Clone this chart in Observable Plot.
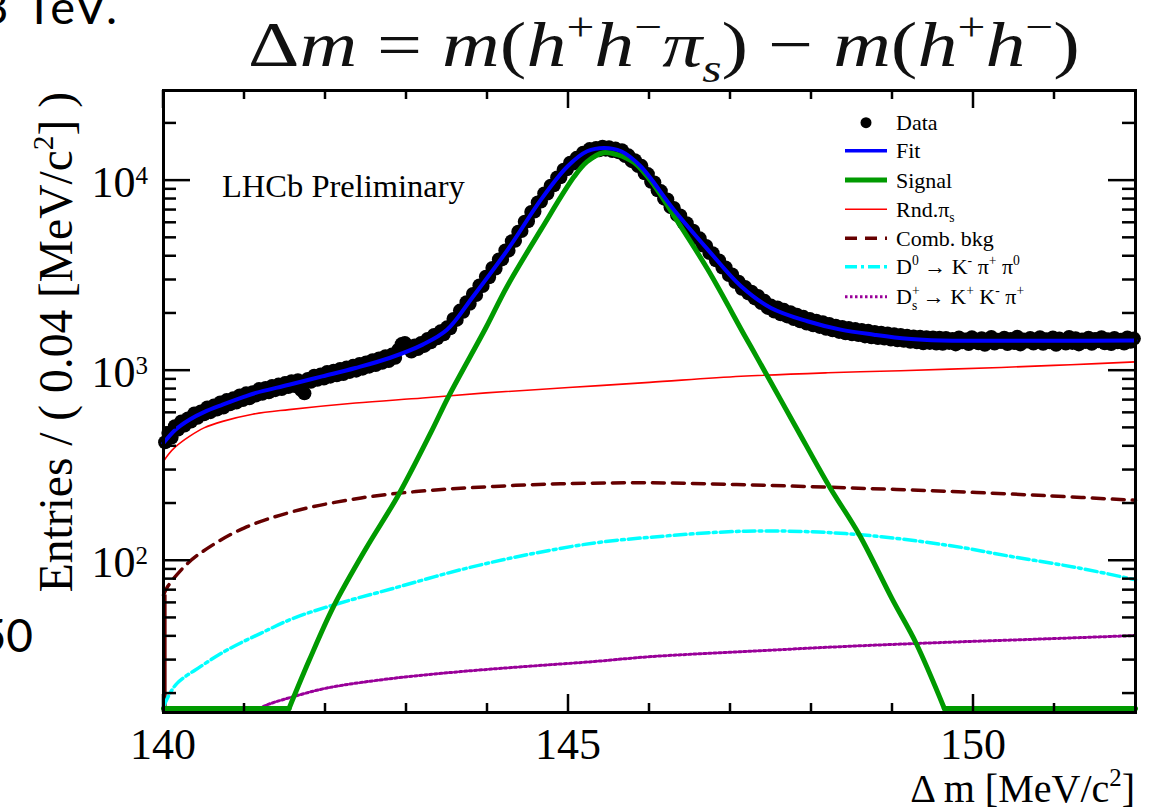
<!DOCTYPE html>
<html><head><meta charset="utf-8">
<script src="https://cdn.jsdelivr.net/npm/d3@7"></script>
<script src="https://cdn.jsdelivr.net/npm/@observablehq/plot@0.6"></script>
<style>html,body{margin:0;padding:0;background:#fff;overflow:hidden} svg{display:block}</style>
</head><body><div id="chart"></div>
<script>
// ---------- data (entries per 0.04 MeV/c^2 bin) ----------
const binStart = 140.02, binWidth = 0.04;
const dataCounts = [
 420, 470, 445, 510, 490, 540, 515, 560, 540, 595,
 565, 610, 590, 640, 605, 655, 625, 680, 640, 700,
 665, 715, 680, 740, 700, 760, 715, 770, 740, 800,
 755, 810, 770, 830, 790, 845, 800, 860, 820, 880,
 830, 890, 790, 760, 905, 875, 940, 895, 955, 910,
 985, 930, 1000, 945, 1020, 960, 1040, 985, 1060, 1000,
 1085, 1025, 1105, 1050, 1135, 1070, 1160, 1100, 1190, 1125,
 1215, 1170, 1290, 1380, 1400, 1350, 1260, 1355, 1300, 1400,
 1350, 1470, 1410, 1540, 1480, 1610, 1555, 1690, 1670, 1870,
 1850, 2070, 2040, 2290, 2250, 2530, 2500, 2810, 2790, 3120,
 3100, 3470, 3450, 3850, 3850, 4290, 4280, 4800, 4830, 5390,
 5430, 6080, 6110, 6840, 6880, 7680, 7760, 8550, 8560, 9400,
 9450, 10380, 10420, 11420, 11480, 12420, 12300, 13180, 13060, 14010,
 13900, 14650, 14200, 14850, 14450, 15080, 14550, 14980, 14300, 14740,
 14100, 14440, 13480, 13580, 12660, 12790, 11930, 11960, 10920, 10820,
 9870, 9770, 8900, 8810, 8040, 7960, 7250, 7180, 6580, 6550,
 6000, 5970, 5470, 5450, 4990, 4970, 4550, 4530, 4160, 4150,
 3810, 3800, 3490, 3490, 3190, 3210, 2930, 2940, 2700, 2760,
 2550, 2600, 2400, 2470, 2270, 2330, 2140, 2200, 2050, 2150,
 1980, 2090, 1930, 2030, 1870, 1970, 1820, 1920, 1770, 1870,
 1735, 1830, 1700, 1800, 1660, 1760, 1630, 1725, 1600, 1700,
 1575, 1675, 1555, 1655, 1540, 1635, 1515, 1620, 1500, 1600,
 1485, 1585, 1475, 1570, 1460, 1555, 1445, 1540, 1435, 1525,
 1420, 1515, 1410, 1510, 1395, 1500, 1400, 1495, 1390, 1490,
 1385, 1485, 1400, 1470, 1375, 1495, 1410, 1460, 1380, 1500,
 1420, 1395, 1480, 1370, 1465, 1505, 1390, 1455, 1415, 1490,
 1380, 1470, 1400, 1510, 1375, 1460, 1425, 1485, 1390, 1450,
 1500, 1385, 1465, 1410, 1495, 1370, 1475, 1420, 1390, 1505,
 1400, 1480, 1375, 1460, 1415, 1490, 1385, 1470, 1430, 1500,
 1395, 1465, 1380, 1485, 1410, 1455, 1390, 1495, 1420, 1475
];
const fitX = [140.0, 140.15, 140.32, 140.5, 140.73, 141.0, 141.14, 141.55, 141.96, 142.37, 142.79, 143.2, 143.5, 143.82, 144.25, 144.66, 144.99, 145.23, 145.44, 145.65, 145.89, 146.3, 146.72, 147.13, 147.5, 147.95, 148.36, 148.77, 149.19, 149.6, 150.2, 151.0, 152.0];
const fitY = [416, 490, 552, 605, 662, 730, 764, 843, 933, 1033, 1166, 1371, 1640, 2450, 4336, 7943, 11900, 14270, 14860, 14270, 11900, 7030, 4336, 2780, 2138, 1820, 1644, 1547, 1472, 1442, 1438, 1438, 1440];
const sigX = [140.0, 141.0, 141.55, 141.8, 142.1, 142.5, 142.89, 143.3, 143.52, 143.98, 144.24, 144.66, 145.07, 145.23, 145.43, 145.6, 145.81, 146.06, 146.3, 146.72, 147.17, 147.34, 147.8, 148.22, 148.59, 149.0, 149.29, 149.64, 151.0, 152.0];
const sigY = [1, 4, 16.4, 30, 57.5, 116, 218, 472, 733, 1683, 2767, 5520, 10500, 12590, 14030, 13700, 12440, 9410, 6550, 3404, 1542, 1147, 512, 246, 137, 62.4, 36.9, 16.4, 2, 1];
const rndX = [140.0, 140.06, 140.15, 140.32, 140.5, 140.73, 141.1, 141.55, 142.37, 143.2, 143.98, 145.0, 146.0, 147.13, 148.2, 149.1, 150.34, 151.2, 152.0];
const rndY = [333, 362, 398, 451, 500, 541, 590, 624, 676, 718, 764, 815, 868, 934, 975, 1000, 1040, 1075, 1112];
const combX = [140.0, 140.05, 140.3, 140.58, 141.0, 141.61, 142.44, 143.26, 144.08, 144.9, 146.0, 147.19, 148.42, 149.66, 150.89, 152.0];
const combY = [66, 73, 97, 119, 149, 182, 214, 234, 246, 254, 257, 251, 242, 232, 220, 208];
const d0X = [140.0, 140.05, 140.17, 140.46, 140.79, 141.2, 141.61, 142.11, 142.85, 143.67, 144.49, 145.32, 146.02, 147.19, 148.42, 149.66, 150.48, 151.3, 152.0];
const d0Y = [17, 19, 22.7, 27.8, 34, 41.5, 49.9, 58.7, 71.8, 89.7, 107.6, 124, 133, 143, 139, 121, 105, 91.6, 79.4];
const dsX = [140.0, 141.16, 141.3, 141.61, 142.02, 142.85, 143.67, 144.49, 145.32, 146.02, 147.19, 148.42, 149.66, 150.89, 152.0];
const dsY = [10, 16.2, 17.6, 19.3, 21.4, 24.1, 26.1, 27.8, 29.5, 31.3, 33.3, 35.4, 37.2, 38.8, 40.4];

const xMajorTicks = [140, 145, 150];
const xMinorTicks = [141, 142, 143, 144, 146, 147, 148, 149, 151];
const yMajorTicks = [100, 1000, 10000];
const yMajorExp = ["2", "3", "4"];
const yMinorTicks = [20, 30, 40, 50, 60, 70, 80, 90, 200, 300, 400, 500, 600, 700, 800, 900, 2000, 3000, 4000, 5000, 6000, 7000, 8000, 9000, 20000];

const titleParts = [["Δ","n"],["m","i"],[" = ","n"],["m","i"],["(","n"],["h","i"],["+","sup"],["h","i"],["−","sup"],["π","i"],["s","isub"],[")","n"],[" − ","n"],["m","i"],["(","n"],["h","i"],["+","sup"],["h","i"],["−","sup"],[")","n"]];
const yTitleParts = [["Entries / ( 0.04 [MeV/c","n"],["2","sup"],["] )","n"]];
const xTitleParts = [["Δ m [MeV/c","n"],["2","sup"],["]","n"]];
const lhcbLabel = "LHCb Preliminary";
const legendLabels = [
  [["Data","n"]],
  [["Fit","n"]],
  [["Signal","n"]],
  [["Rnd.","n"],["π","n"],["s","sub"]],
  [["Comb. bkg","n"]],
  [["D","n"],["0","sup"],[" → K","n"],["-","sup"],[" π","n"],["+","sup"],[" π","n"],["0","sup"]],
  [["D","n"],["+","sup"],["s","subback"],[" → K","n"],["+","sup"],[" K","n"],["-","sup"],[" π","n"],["+","sup"]]
];
const legendStyles = [
  {type:"dot"},
  {stroke:"#0000ff", w:3.5},
  {stroke:"#009a00", w:5},
  {stroke:"#ff0000", w:1.6},
  {stroke:"#660000", w:3.5, dash:"12,8"},
  {stroke:"#00ffff", w:3.5, dash:"12,4,3,4"},
  {stroke:"#990099", w:3, dash:"2.5,2.5"}
];
const slideFragments = [["√s = 13 TeV.", 120, 24, 47, 3], ["50", 33, 652, 46, 0]];

// ---------- chart ----------
const yMin = 15.9, yMax = 29800, yFloor = 16.7;
const pts = (xs, ys) => xs.map((x, i) => ({x, y: ys[i]}));
const bins = dataCounts.map((v, i) => ({x: binStart + i * binWidth, y: v}));
const fy = d => Math.max(d.y, yFloor);
const cr = "catmull-rom";
const sig = pts(sigX, sigY);
const sigRise = sig.findIndex(d => d.y >= 16), sigEnd = sig.length - 1 - [...sig].reverse().findIndex(d => d.y >= 16);
const sigStyle = {x: "x", y: fy, stroke: "#009a00", strokeWidth: 5, strokeLinejoin: "round"};

const chart = Plot.plot({
  width: 1154, height: 812,
  marginLeft: 163, marginRight: 19, marginTop: 90, marginBottom: 100,
  x: {domain: [140, 152], axis: null},
  y: {type: "log", domain: [yMin, yMax], axis: null},
  style: {background: "white", fontFamily: "Liberation Serif"},
  marks: [
    Plot.dot(bins, {x: "x", y: "y", r: 7, fill: "black", stroke: null}),
    Plot.ruleX([0], {x: () => 140, y1: () => yMin, y2: () => rndY[0], stroke: "#ff0000", strokeWidth: 2}),
    Plot.line(pts(rndX, rndY), {x: "x", y: fy, stroke: "#ff0000", strokeWidth: 1.6, curve: cr}),
    Plot.ruleX([0], {x: () => 140.02, y1: () => yMin, y2: () => combY[0], stroke: "#660000", strokeWidth: 3}),
    Plot.line(pts(combX, combY), {x: "x", y: fy, stroke: "#660000", strokeWidth: 3.5, strokeDasharray: "12,8", curve: cr}),
    Plot.line(pts(d0X, d0Y), {x: "x", y: fy, stroke: "#00ffff", strokeWidth: 3.5, strokeDasharray: "12,4,3,4", curve: cr}),
    Plot.line(pts(dsX, dsY), {x: "x", y: fy, stroke: "#990099", strokeWidth: 3, strokeDasharray: "2.5,2.5", curve: cr}),
    Plot.line(sig.slice(0, sigRise + 1), {...sigStyle, curve: "linear"}),
    Plot.line(sig.slice(sigRise, sigEnd + 1), {...sigStyle, curve: cr}),
    Plot.line(sig.slice(sigEnd), {...sigStyle, curve: "linear"}),
    Plot.ruleX([0], {x: () => 140, y1: () => yMin, y2: () => fitY[0], stroke: "#0000ff", strokeWidth: 2}),
    Plot.line(pts(fitX, fitY), {x: "x", y: fy, stroke: "#0000ff", strokeWidth: 4, curve: cr}),
    Plot.frame({stroke: "black", strokeWidth: 3})
  ]
});
document.getElementById("chart").appendChild(chart);

const sx = chart.scale("x"), sy = chart.scale("y");
const X = v => sx.apply(v), Y = v => sy.apply(v);
const L = X(140), R = X(152), T = Y(yMax), B = Y(yMin);
const svg = d3.select(chart);

function rich(sel, parts, fs) {
  sel.selectAll("tspan").remove();
  let cur = 0;
  for (const [t, s] of parts) {
    const small = s.includes("sup") || s.includes("sub");
    const sz = small ? fs * 0.62 : fs;
    const off = s.includes("sup") ? -fs * 0.4 : s.includes("sub") ? fs * 0.25 : 0;
    const ts = sel.append("tspan").attr("dy", (off - cur).toFixed(2)).attr("font-size", sz)
      .attr("font-style", s.startsWith("i") ? "italic" : "normal").text(t);
    if (s === "subback") ts.attr("dx", -fs * 0.62 * 0.56);
    cur = off;
  }
}

// ticks (inside the frame, all four sides)
const tk = svg.append("g").attr("stroke", "black").attr("stroke-width", 2.5);
const xt = (vals, len) => vals.forEach(v => {
  tk.append("line").attr("x1", X(v)).attr("x2", X(v)).attr("y1", B).attr("y2", B - len);
  tk.append("line").attr("x1", X(v)).attr("x2", X(v)).attr("y1", T).attr("y2", T + len);
});
const yt = (vals, len) => vals.forEach(v => {
  tk.append("line").attr("y1", Y(v)).attr("y2", Y(v)).attr("x1", L).attr("x2", L + len);
  tk.append("line").attr("y1", Y(v)).attr("y2", Y(v)).attr("x1", R).attr("x2", R - len);
});
xt(xMajorTicks, 18); xt(xMinorTicks, 9);
yt(yMajorTicks, 27); yt(yMinorTicks, 13);

const font = "Liberation Serif";
const txt = () => svg.append("text").attr("font-family", font).attr("fill", "black").attr("text-anchor", "start");
// x tick labels
xMajorTicks.forEach(v => txt().attr("x", X(v)).attr("y", B + 47)
  .attr("text-anchor", "middle").attr("font-size", 44).text(v));
// y tick labels
yMajorTicks.forEach((v, i) => {
  const t = txt().attr("x", 148).attr("y", Y(v) + 17).attr("text-anchor", "end").attr("font-size", 44);
  t.append("tspan").text("10");
  t.append("tspan").attr("dy", -13).attr("font-size", 25).text(yMajorExp[i]);
});
// axis titles
const yt2 = txt().attr("transform", `translate(72,${T + 2}) rotate(-90)`).attr("text-anchor", "end").attr("font-size", 47.5);
rich(yt2, yTitleParts, 47.5);
const xt2 = txt().attr("x", R).attr("y", 802).attr("text-anchor", "end").attr("font-size", 40);
rich(xt2, xTitleParts, 40);

// LHCb label
txt().attr("x", 222).attr("y", 197).attr("font-size", 32.5).text(lhcbLabel);

// legend
const rowY = [122.7, 150.7, 180, 209.3, 238.3, 266.7, 296.7];
legendLabels.forEach((parts, i) => {
  const yy = rowY[i], st = legendStyles[i];
  if (st.type === "dot") svg.append("circle").attr("cx", 866).attr("cy", yy).attr("r", 5.5).attr("fill", "black");
  else svg.append("line").attr("x1", 845).attr("x2", 887).attr("y1", yy).attr("y2", yy)
    .attr("stroke", st.stroke).attr("stroke-width", st.w).attr("stroke-dasharray", st.dash || null);
  const t = txt().attr("x", 896).attr("y", yy + 7.5).attr("font-size", 22);
  rich(t, parts, 22);
});

// title: glyph height as in the reference, stretched horizontally to its span (248 → 1080)
const tt = txt().attr("x", 0).attr("y", 0).attr("fill", "#111");
rich(tt, titleParts, 64);
const w0 = tt.node().getComputedTextLength();
tt.attr("transform", `translate(248,66) scale(${w0 > 0 ? 832 / w0 : 1},1)`);

// fragments of surrounding slide text
slideFragments.forEach(([s, x, y, fs, ls]) => svg.append("text").attr("x", x).attr("y", y).attr("text-anchor", "end")
  .attr("font-family", "Lato").attr("font-size", fs).attr("letter-spacing", ls).attr("fill", "black").text(s));
</script>
</body></html>
